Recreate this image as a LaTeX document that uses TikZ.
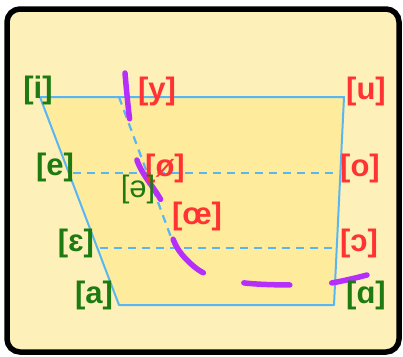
\documentclass[tikz,border=0pt]{standalone}
\usepackage{fontspec}
\setmainfont{Liberation Sans}
\definecolor{boxfill}{HTML}{FDF1B9}
\definecolor{trapfill}{HTML}{FEEC9C}
\definecolor{lineblue}{HTML}{5AB6F2}
\definecolor{frontgreen}{HTML}{1E7B12}
\definecolor{backred}{HTML}{FF3333}
\definecolor{curvepurple}{HTML}{B52EFA}
\tikzset{
  vowel/.style={font=\fontsize{31}{36}\selectfont\bfseries, inner sep=0pt},
  front/.style={vowel, text=frontgreen},
  back/.style={vowel, text=backred},
  edge/.style={lineblue, line width=2pt},
  level/.style={lineblue, line width=2.2pt, dash pattern=on 8pt off 6pt}
}
\begin{document}
\begin{tikzpicture}[x=1pt,y=-1pt]
  \useasboundingbox (0,0) rectangle (403,356);
  % frame
  \draw[line width=5.5pt, rounded corners=13pt, fill=boxfill] (7,9) rectangle (399,352);

  % vowel trapezoid
  \coordinate (I) at (40,97);
  \coordinate (U) at (344,97);
  \coordinate (A) at (119,305);
  \coordinate (Ab) at (334,305);
  \fill[trapfill] (I) -- (U) -- (Ab) -- (A) -- cycle;
  \draw[edge, line join=round] (I) -- (U) -- (Ab) -- (A) -- cycle;

  \coordinate (E) at (73,173);
  \coordinate (O) at (338,173);
  \coordinate (Eps) at (100,248);
  \coordinate (Oo) at (335,248);
  \coordinate (Y) at (119,97);
  \coordinate (Mid) at (175,248);
  \draw[level] (E) -- (O);
  \draw[level] (Eps) -- (Oo);
  \draw[level] (Y) -- (Mid);

  % rounded boundary
  \draw[curvepurple, line width=5.5pt, line cap=round, dash pattern=on 46pt off 42pt]
    plot[smooth, tension=0.6] coordinates {(125,73) (130,122) (138,163) (163,204)
      (173,239) (186,259) (208,275) (245,283) (295,285) (331,283) (367,275)};

  % labels
  \node[front] (i) at (38,90) {[i]};
  \node[back] (y) at (157,91) {[y]};
  \node[back] (u) at (366,91) {[u]};
  \node[front] (e) at (55,167) {[e]};
  \node[back] (oe) at (165,168) {[ø]};
  \node[back] (o) at (360,168) {[o]};
  \node[front, font=\fontsize{31}{36}\selectfont] (schwa) at (138,189) {[ə]};
  \node[back] (oelig) at (197,216) {[œ]};
  \node[front] (eps) at (76,243) {[ɛ]};
  \node[back] (openo) at (359,243) {[ɔ]};
  \node[front] (a) at (94,295) {[a]};
  \node[front] (alpha) at (366,295) {[ɑ]};
\end{tikzpicture}
\end{document}
